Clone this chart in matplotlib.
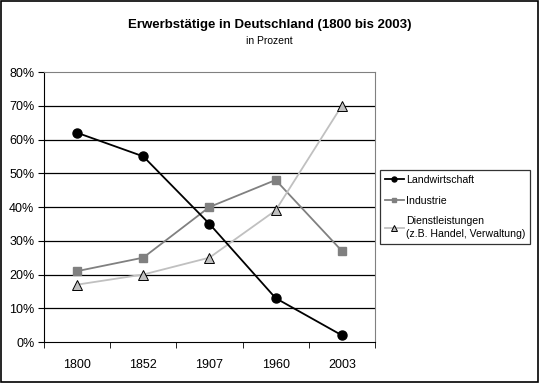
import matplotlib.pyplot as plt
from matplotlib.ticker import FixedLocator, FuncFormatter

plt.rcParams['font.family'] = ['Liberation Sans', 'DejaVu Sans']

jahre = ['1800', '1852', '1907', '1960', '2003']
landwirtschaft = [62, 55, 35, 13, 2]
industrie = [21, 25, 40, 48, 27]
dienstleistungen = [17, 20, 25, 39, 70]

fig = plt.figure(figsize=(5.39, 3.83), dpi=100)
ax = fig.add_axes([0.0816, 0.107, 0.614, 0.705])

x = list(range(len(jahre)))

# Gitterlinien
for v in range(10, 80, 10):
    ax.axhline(v, color='black', lw=0.9, zorder=1)

ax.plot(x, landwirtschaft, color='black', lw=1.3, marker='o', ms=6.5,
        mfc='black', mec='black', label='Landwirtschaft', zorder=4)
ax.plot(x, industrie, color='#808080', lw=1.3, marker='s', ms=6,
        mfc='#808080', mec='#808080', label='Industrie', zorder=3)
ax.plot(x, dienstleistungen, color='#c0c0c0', lw=1.3, marker='^', ms=7.5,
        mfc='#c0c0c0', mec='black', mew=0.7,
        label='Dienstleistungen\n(z.B. Handel, Verwaltung)', zorder=3)

ax.set_xlim(-0.5, len(jahre) - 0.5)
ax.set_ylim(0, 80)
ax.set_yticks(range(0, 81, 10))
ax.yaxis.set_major_formatter(FuncFormatter(lambda v, p: '%d%%' % v))
ax.set_xticks(x)
ax.set_xticklabels(jahre)
ax.xaxis.set_minor_locator(FixedLocator([i + 0.5 for i in range(-1, len(jahre))]))
ax.tick_params(axis='x', which='major', length=0, pad=12, labelsize=9)
ax.tick_params(axis='x', which='minor', length=4, direction='out', color='black')
ax.tick_params(axis='y', length=4, direction='out', labelsize=9, pad=3)

ax.spines['left'].set_color('black')
ax.spines['bottom'].set_color('black')
ax.spines['top'].set_color('#808080')
ax.spines['right'].set_color('#808080')

fig.text(0.5, 0.935, 'Erwerbstätige in Deutschland (1800 bis 2003)',
         ha='center', va='center', fontsize=9.5, fontweight='bold')
fig.text(0.5, 0.893, 'in Prozent', ha='center', va='center', fontsize=7.5)

leg = ax.legend(loc='center left', bbox_to_anchor=(1.015, 0.5), fontsize=7.6,
                frameon=True, fancybox=False, edgecolor='black',
                handlelength=1.8, handletextpad=0.2, borderpad=0.45,
                borderaxespad=0, labelspacing=1.0, markerscale=0.55)
leg.get_frame().set_linewidth(0.9)
leg.get_texts()[2].set_linespacing(1.35)

# Rahmen um das ganze Bild
fig.patches.append(plt.Rectangle((0.002, 0.003), 0.996, 0.994, transform=fig.transFigure,
                                 fill=False, edgecolor='black', lw=1.2))

fig.savefig('out.png', dpi=100)
